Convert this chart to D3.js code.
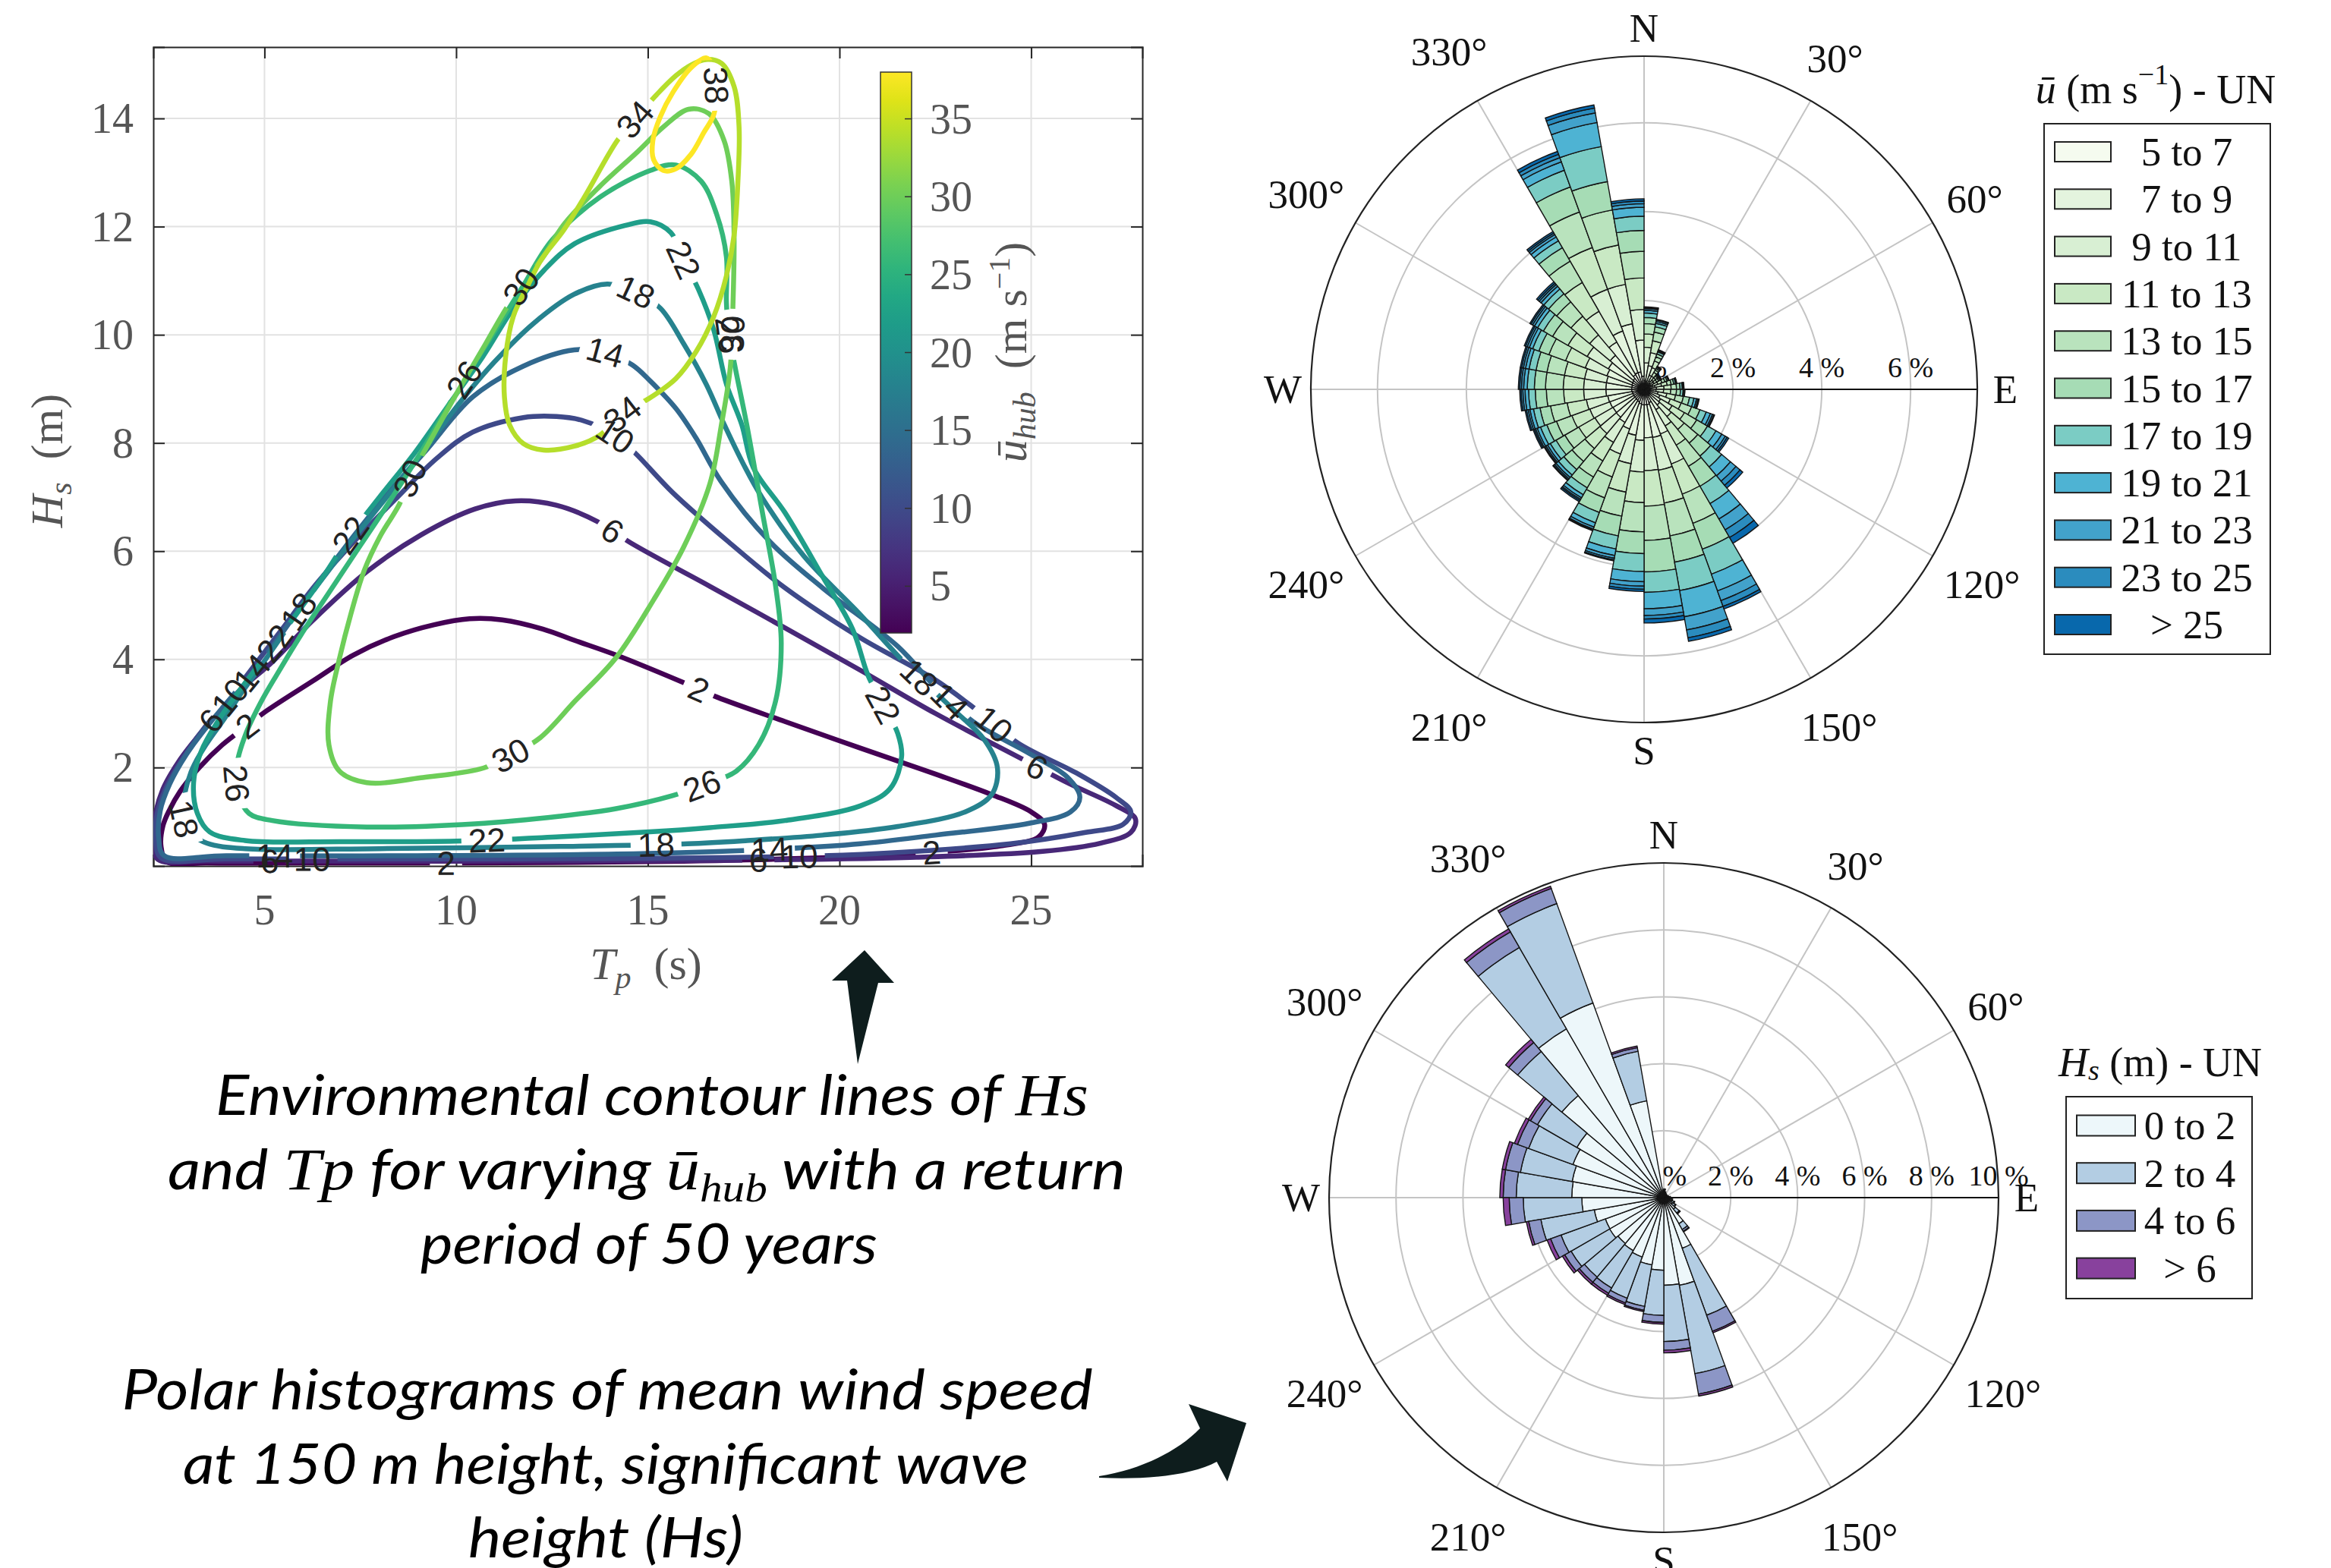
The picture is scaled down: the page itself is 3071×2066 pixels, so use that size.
<!DOCTYPE html>
<html lang="en">
<head>
<meta charset="UTF-8">
<title>Environmental contours and polar histograms</title>
<script src="https://d3js.org/d3.v7.min.js"></script>
<style>
  html, body { margin: 0; padding: 0; background: #fff; }
  svg { display: block; }
</style>
</head>
<body>
<div id="figure"></div>
<script>
// ---- contour plot: closed rings of [Tp (s), Hs (m)] for each hub wind speed ----
const contourLevels = [2, 6, 10, 14, 18, 22, 26, 30, 34, 38];

const ring2 = [[2.45,0.26],[2.3,0.55],[2.35,0.92],[2.51,1.2],[2.8,1.56],[3.3,2.0],[3.9,2.42],[4.56,2.78],[5.06,3.05],[6.26,3.6],[7.32,4.08],[8.38,4.42],[9.43,4.64],[10.35,4.75],[11.2,4.73],[12.26,4.56],[13.09,4.35],[14.17,4.08],[15.83,3.6],[16.81,3.3],[18.58,2.85],[20.54,2.36],[22.5,1.88],[23.97,1.5],[25.0,1.18],[25.35,0.95],[25.2,0.72],[24.2,0.55],[22.4,0.43],[19.0,0.32],[15.0,0.26],[10.0,0.235],[6.0,0.235],[3.5,0.235]];
const ring6 = [[2.22,0.3],[2.1,0.6],[2.13,1.05],[2.35,1.6],[2.8,2.15],[3.35,2.65],[3.9,3.1],[4.5,3.52],[5.2,3.95],[6.26,4.72],[7.67,5.62],[9.08,6.3],[10.49,6.78],[11.55,6.93],[12.61,6.85],[13.68,6.55],[14.56,6.15],[16.62,5.35],[18.58,4.58],[20.54,3.8],[22.5,3.0],[24.7,2.18],[26.0,1.7],[27.2,1.3],[27.72,1.05],[27.6,0.8],[26.8,0.6],[25.3,0.45],[22.0,0.34],[18.0,0.29],[12.0,0.27],[6.0,0.27],[3.5,0.27]];
const ring10 = [[2.3,0.33],[2.16,0.65],[2.2,1.15],[2.45,1.65],[2.9,2.2],[3.45,2.75],[4.1,3.3],[4.75,3.9],[5.45,4.55],[6.3,5.35],[7.3,6.15],[8.4,6.95],[9.5,7.72],[10.43,8.2],[11.75,8.47],[12.62,8.49],[13.28,8.42],[14.14,8.14],[14.66,7.82],[15.64,7.09],[17.11,6.17],[18.58,5.32],[20.54,4.4],[22.5,3.62],[23.6,3.05],[24.66,2.45],[26.23,1.88],[27.21,1.45],[27.6,1.18],[27.4,0.95],[26.42,0.8],[24.46,0.59],[21.52,0.43],[19.56,0.37],[15.0,0.32],[8.0,0.31],[4.0,0.31]];
const ring14 = [[2.38,0.37],[2.24,0.7],[2.28,1.2],[2.53,1.7],[2.97,2.25],[3.55,2.8],[4.17,3.33],[4.72,3.8],[5.32,4.35],[5.92,4.95],[6.6,5.6],[7.35,6.3],[8.2,7.05],[9.2,7.85],[10.43,8.85],[11.75,9.42],[13.08,9.72],[13.87,9.68],[14.6,9.44],[15.07,9.14],[15.73,8.64],[16.25,8.1],[16.9,7.3],[18.19,6.17],[19.56,5.32],[21.52,4.24],[22.5,3.49],[23.48,2.85],[24.95,2.26],[25.93,1.83],[26.27,1.45],[26.03,1.18],[24.95,0.97],[22.5,0.75],[20.54,0.59],[18.58,0.5],[15.0,0.41],[9.0,0.37],[4.0,0.37]];
const ring18 = [[3.5,0.6],[3.1,0.78],[2.9,1.05],[2.92,1.5],[3.12,1.98],[3.5,2.45],[3.95,2.9],[4.4,3.38],[4.9,3.87],[5.42,4.4],[5.98,4.98],[6.68,5.65],[7.45,6.35],[8.3,7.1],[9.2,7.9],[10.1,8.75],[11.0,9.5],[12.0,10.2],[13.08,10.75],[13.94,10.94],[14.67,10.8],[15.33,10.49],[15.93,9.84],[16.52,9.09],[17.0,8.33],[17.5,7.6],[17.99,6.98],[19.07,5.91],[20.54,4.83],[21.72,3.92],[22.99,3.06],[23.77,2.52],[24.12,1.99],[23.97,1.5],[23.28,1.18],[21.52,0.91],[19.56,0.75],[17.6,0.65],[16.03,0.59],[12.7,0.54],[8.0,0.5],[4.5,0.5]];
const ring22 = [[4.49,0.65],[3.57,0.81],[3.25,1.15],[3.15,1.72],[3.35,2.3],[3.78,2.85],[4.3,3.38],[4.85,3.9],[5.27,4.3],[5.9,4.9],[6.55,5.55],[7.24,6.3],[8.0,7.0],[8.9,7.8],[9.8,8.7],[10.7,9.6],[11.5,10.5],[12.3,11.2],[13.08,11.68],[14.4,12.02],[15.07,12.09],[15.6,11.89],[15.93,11.39],[16.32,10.84],[16.72,10.09],[17.05,9.09],[17.45,8.34],[17.75,7.55],[18.58,6.71],[19.56,5.53],[20.34,4.56],[20.74,3.71],[21.13,3.17],[21.52,2.63],[21.62,2.2],[21.32,1.61],[20.54,1.29],[18.58,1.02],[16.62,0.89],[15.05,0.81],[12.7,0.72],[10.0,0.64],[7.0,0.63]];
const ring26 = [[5.2,1.02],[4.6,1.15],[4.32,1.5],[4.28,2.05],[4.5,2.6],[4.9,3.2],[5.35,3.75],[5.95,4.45],[6.65,5.2],[7.4,6.0],[8.2,6.85],[9.1,7.85],[10.1,9.05],[10.9,9.95],[11.7,10.85],[12.5,11.75],[13.74,12.54],[15.07,13.04],[15.73,13.14],[16.39,12.84],[16.79,12.24],[17.05,11.44],[17.05,10.59],[17.12,9.99],[17.28,9.39],[17.58,8.34],[17.99,6.71],[18.33,5.37],[18.48,4.3],[18.33,3.22],[17.89,2.42],[17.3,1.93],[16.42,1.67],[15.64,1.48],[14.17,1.24],[12.7,1.1],[10.49,0.96],[7.67,0.9]];
const ring30 = [[7.67,1.72],[6.96,1.93],[6.68,2.42],[6.72,3.22],[6.96,4.03],[7.25,4.83],[7.6,5.64],[8.02,6.28],[8.52,6.87],[8.8,7.36],[9.29,8.0],[10.0,8.9],[10.7,9.75],[11.29,10.47],[11.69,10.89],[12.28,11.45],[12.81,12.04],[13.74,12.74],[14.74,13.39],[15.4,13.84],[16.06,14.17],[16.59,14.09],[16.99,13.59],[17.19,12.84],[17.25,11.84],[17.22,10.54],[17.15,9.39],[16.92,8.34],[16.62,7.25],[15.93,6.07],[15.15,5.1],[14.17,4.03],[13.09,3.22],[12.19,2.55],[11.41,2.22],[10.71,1.99],[9.08,1.81]];
const ring34 = [[12.28,7.87],[11.75,7.99],[11.39,8.34],[11.26,8.84],[11.29,9.59],[11.49,10.34],[11.89,10.94],[12.22,11.39],[12.81,11.94],[13.34,12.54],[14.2,13.59],[14.67,13.99],[15.23,14.44],[15.73,14.79],[16.13,14.99],[16.52,15.09],[16.92,15.02],[17.25,14.59],[17.38,13.84],[17.35,12.84],[17.25,11.84],[17.05,11.09],[16.72,10.34],[16.26,9.69],[15.73,9.19],[15.07,8.84],[14.34,8.54],[13.74,8.14],[13.08,7.94]];
const ring38 = [[15.13,13.59],[15.15,13.24],[15.4,13.04],[15.73,13.07],[16.13,13.34],[16.46,13.74],[16.72,14.07],[16.79,14.59],[16.69,14.99],[16.52,15.12],[16.13,14.94],[15.66,14.49],[15.33,14.04]];

// in-line label anchors [Tp, Hs] (snapped onto their own contour)
const labels2 = [[4.56,2.78],[16.32,3.46],[22.4,0.43],[9.72,0.235]];
const labels6 = [[3.62,2.88],[14.07,6.36],[25.15,1.99],[17.9,0.28],[5.13,0.27]];
const labels10 = [[4.14,3.28],[14.14,8.14],[23.97,2.75],[18.97,0.36],[6.26,0.31]];
const labels14 = [[4.67,3.75],[13.87,9.68],[22.79,3.17],[18.19,0.5],[5.27,0.37]];
const labels18 = [[5.8,4.92],[14.67,10.8],[22.0,3.6],[15.2,0.58],[2.9,1.05]];
const labels22 = [[5.27,4.3],[7.24,6.3],[15.93,11.39],[21.13,3.17],[10.78,0.64]];
const labels26 = [[10.15,9.2],[4.28,1.7],[16.42,1.67],[17.12,9.99]];
const labels30 = [[8.8,7.36],[11.69,10.89],[11.41,2.22],[17.19,10.0]];
const labels34 = [[14.67,13.99],[14.34,8.54]];
const labels38 = [[16.77,14.6]];

const tpTicks = [5, 10, 15, 20, 25];
const hsTicks = [2, 4, 6, 8, 10, 12, 14];
const colorbarTicks = [5, 10, 15, 20, 25, 30, 35];

// ---- polar histograms: 10 degree direction bins, percentage of records ----
const dirBins = [0,10,20,30,40,50,60,70,80,90,100,110,120,130,140,150,160,170,180,190,200,210,220,230,240,250,260,270,280,290,300,310,320,330,340,350];
const compassAngles = [0, 30, 60, 90, 120, 150, 180, 210, 240, 270, 300, 330];
const compassLabels = ['N', '30°', '60°', 'E', '120°', '150°', 'S', '210°', '240°', 'W', '300°', '330°'];

const windClasses = ['5 to 7', '7 to 9', '9 to 11', '11 to 13', '13 to 15', '15 to 17', '17 to 19', '19 to 21', '21 to 23', '23 to 25', '> 25'];
const wind5to7   = [.2,.18,.12,.08,.07,.07,.08,.09,.1,.1,.12,.13,.15,.16,.18,.32,.35,.35,.35,.33,.3,.28,.27,.27,.27,.27,.28,.28,.28,.29,.3,.32,.38,.4,.4,.3];
const wind7to9   = [.4,.36,.22,.14,.11,.1,.13,.16,.18,.17,.2,.25,.28,.3,.35,.75,.75,.74,.8,.72,.65,.58,.55,.54,.55,.56,.58,.58,.58,.6,.63,.68,.85,1.0,1.1,.81];
const wind9to11  = [.35,.3,.18,.12,.09,.09,.12,.15,.17,.17,.2,.25,.3,.34,.42,.72,.75,.74,.71,.65,.6,.52,.48,.47,.48,.49,.5,.5,.5,.52,.55,.6,.8,1.0,.9,.69];
const wind11to13 = [.3,.27,.16,.1,.07,.07,.1,.13,.16,.16,.2,.26,.32,.38,.5,.72,.75,.8,.69,.65,.55,.48,.44,.42,.43,.44,.45,.46,.46,.47,.5,.55,.75,1.0,.9,.71];
const wind13to15 = [.23,.2,.1,.06,.05,.05,.07,.09,.12,.13,.18,.25,.32,.4,.55,.7,.75,.77,.66,.55,.5,.42,.38,.36,.37,.38,.39,.4,.4,.4,.4,.42,.55,.85,.8,.6];
const wind15to17 = [.14,.12,.07,.04,.03,.03,.05,.06,.08,.09,.14,.2,.28,.38,.52,.62,.6,.71,.49,.45,.35,.28,.24,.23,.23,.24,.25,.25,.25,.24,.24,.24,.35,.6,.65,.47];
const wind17to19 = [.1,.08,.05,.03,.02,.02,.03,.04,.05,.06,.1,.15,.22,.32,.45,.6,.65,.46,.4,.3,.25,.18,.16,.15,.15,.15,.15,.16,.16,.15,.15,.14,.18,.4,.8,.32];
const wind19to21 = [.06,.04,.02,.01,.005,.01,.01,.015,.02,.02,.06,.1,.15,.26,.4,.4,.6,.37,.23,.15,.1,.08,.07,.07,.08,.08,.08,.08,.08,.08,.08,.08,.1,.2,.55,.2];
const wind21to23 = [.04,.03,.01,.01,.003,.005,.005,.007,.01,.01,.03,.05,.09,.16,.28,.23,.3,.15,.1,.06,.05,.04,.04,.04,.04,.04,.05,.05,.05,.05,.05,.05,.06,.1,.22,.08];
const wind23to25 = [.02,.01,.01,.005,.001,.003,.003,.005,.006,.006,.02,.03,.05,.12,.2,.14,.18,.08,.07,.04,.02,.03,.03,.03,.03,.04,.04,.04,.04,.04,.04,.04,.04,.08,.11,.06];
const windAbove25 = [.02,.01,.01,.005,.001,.002,.002,.003,.004,.004,.01,.02,.04,.08,.15,.06,.08,.09,.05,.02,.02,.03,.02,.02,.03,.03,.03,.03,.03,.03,.03,.04,.04,.07,.07,.05];
const windTicks = [0, 2, 4, 6];

const waveClasses = ['0 to 2', '2 to 4', '4 to 6', '> 6'];
const hs0to2   = [.2,.15,.12,.1,.1,.1,.1,.12,.15,.18,.2,.25,.3,.45,.9,1.61,2.66,2.62,2.17,2.04,1.89,1.83,1.79,1.87,1.86,2.11,2.45,2.75,2.78,2.89,3.0,3.98,5.82,6.19,2.94,.2];
const hs2to4   = [.05,.03,.02,.02,.02,.02,.02,.03,.04,.05,.06,.08,.1,.15,.2,2.13,2.68,1.68,1.35,1.26,1.31,1.29,1.31,1.33,1.41,1.62,1.75,1.66,1.57,1.41,1.36,1.72,2.81,3.16,1.5,.03];
const hs4to6   = [.01,0,0,0,0,0,0,0,.01,.01,.01,.02,.02,.03,.06,.51,.62,.26,.21,.12,.15,.18,.2,.22,.33,.37,.42,.39,.45,.35,.24,.35,.54,.48,.11,0];
const hsAbove6 = [0,0,0,0,0,0,0,0,0,0,0,0,0,.01,.02,.05,.06,.08,.05,.04,.05,.07,.07,.08,.11,.07,.18,.1,.1,.1,.08,.12,.1,.07,.05,0];
const waveTicks = [0, 2, 4, 6, 8, 10];

// ---------------------------------------------------------------------------
const W = 3071, H = 2066;
const SERIF = "'Liberation Serif', 'DejaVu Serif', serif";
const SANS = "'Liberation Sans', Arial, sans-serif";
const NOTE = "Lato, 'Open Sans', sans-serif";
const AXIS_GREY = '#555';

const svg = d3.select('#figure').append('svg')
  .attr('width', W).attr('height', H).attr('viewBox', `0 0 ${W} ${H}`);
svg.append('rect').attr('width', W).attr('height', H).attr('fill', '#fff');
const defs = svg.append('defs');

// ================= contour plot =================
const box = { left: 202, right: 1505, top: 62, bottom: 1141 };
const x = d3.scaleLinear().domain([2.1, 27.9]).range([box.left, box.right]);
const y = d3.scaleLinear().domain([0.18, 15.32]).range([box.bottom, box.top]);
const colour = d3.scaleSequential(d3.interpolateViridis).domain([2, 38]);

// grid
svg.append('g').selectAll('line').data(tpTicks).join('line')
  .attr('x1', d => x(d)).attr('x2', d => x(d)).attr('y1', box.top).attr('y2', box.bottom)
  .attr('stroke', '#e2e2e2').attr('stroke-width', 2);
svg.append('g').selectAll('line').data(hsTicks).join('line')
  .attr('y1', d => y(d)).attr('y2', d => y(d)).attr('x1', box.left).attr('x2', box.right)
  .attr('stroke', '#e2e2e2').attr('stroke-width', 2);

// axes with inward ticks on all four sides
svg.append('g').attr('transform', `translate(0,${box.bottom})`)
  .call(d3.axisBottom(x).tickValues(tpTicks).tickSize(-15).tickFormat(''));
svg.append('g').attr('transform', `translate(0,${box.top})`)
  .call(d3.axisTop(x).tickValues(tpTicks).tickSize(-15).tickFormat(''));
svg.append('g').attr('transform', `translate(${box.left},0)`)
  .call(d3.axisLeft(y).tickValues(hsTicks).tickSize(-15).tickFormat(''));
svg.append('g').attr('transform', `translate(${box.right},0)`)
  .call(d3.axisRight(y).tickValues(hsTicks).tickSize(-15).tickFormat(''));
svg.selectAll('.domain').attr('stroke', '#262626').attr('stroke-width', 2);
svg.selectAll('.tick line').attr('stroke', '#262626').attr('stroke-width', 2);

svg.append('g').selectAll('text').data(tpTicks).join('text')
  .attr('x', d => x(d)).attr('y', 1218).attr('text-anchor', 'middle')
  .attr('font-family', SERIF).attr('font-size', 56).attr('fill', AXIS_GREY).text(d => d);
svg.append('g').selectAll('text').data(hsTicks).join('text')
  .attr('x', 176).attr('y', d => y(d)).attr('text-anchor', 'end').attr('dominant-baseline', 'central')
  .attr('font-family', SERIF).attr('font-size', 56).attr('fill', AXIS_GREY).text(d => d);

const xl = svg.append('text').attr('x', 851).attr('y', 1290).attr('text-anchor', 'middle')
  .attr('font-family', SERIF).attr('font-size', 60).attr('fill', AXIS_GREY);
xl.append('tspan').attr('font-style', 'italic').text('T');
xl.append('tspan').attr('font-style', 'italic').attr('font-size', 42).attr('dy', 12).text('p');
xl.append('tspan').attr('dy', -12).text('\u2002(s)');

const yl = svg.append('text').attr('transform', 'translate(82,607) rotate(-90)').attr('text-anchor', 'middle')
  .attr('font-family', SERIF).attr('font-size', 60).attr('fill', AXIS_GREY);
yl.append('tspan').attr('font-style', 'italic').text('H');
yl.append('tspan').attr('font-style', 'italic').attr('font-size', 42).attr('dy', 12).text('s');
yl.append('tspan').attr('dy', -12).text('\u2002(m)');

// contour lines with label gaps
defs.append('clipPath').attr('id', 'plotClip').append('rect')
  .attr('x', box.left).attr('y', box.top).attr('width', box.right - box.left).attr('height', box.bottom - box.top);

const rings = [ring2, ring6, ring10, ring14, ring18, ring22, ring26, ring30, ring34, ring38];
const labelSets = [labels2, labels6, labels10, labels14, labels18, labels22, labels26, labels30, labels34, labels38];
const levels = contourLevels.map((v, i) => ({ value: v, ring: rings[i], labels: labelSets[i] }));

const contourLine = d3.line().x(d => x(d[0])).y(d => y(d[1])).curve(d3.curveCatmullRomClosed.alpha(0.5));
const lineLayer = svg.append('g').attr('clip-path', 'url(#plotClip)');
const labelLayer = svg.append('g');

levels.forEach(lv => {
  const mask = defs.append('mask').attr('id', `gap${lv.value}`)
    .attr('maskUnits', 'userSpaceOnUse').attr('x', 0).attr('y', 0).attr('width', W).attr('height', H);
  mask.append('rect').attr('width', W).attr('height', H).attr('fill', '#fff');

  const path = lineLayer.append('path')
    .attr('d', contourLine(lv.ring))
    .attr('fill', 'none').attr('stroke', colour(lv.value)).attr('stroke-width', 6.5)
    .attr('stroke-linejoin', 'round').attr('mask', `url(#gap${lv.value})`);
  const node = path.node();
  const len = node.getTotalLength();

  lv.labels.forEach(([tp, hs]) => {
    const px = x(tp), py = y(hs);
    let best = 0, bestD = Infinity;
    for (let s = 0; s < len; s += 2) {
      const p = node.getPointAtLength(s);
      const d = (p.x - px) ** 2 + (p.y - py) ** 2;
      if (d < bestD) { bestD = d; best = s; }
    }
    const p = node.getPointAtLength(best);
    const a = node.getPointAtLength((best - 10 + len) % len);
    const b = node.getPointAtLength((best + 10) % len);
    let ang = Math.atan2(b.y - a.y, b.x - a.x) * 180 / Math.PI;
    if (ang > 90) ang -= 180;
    if (ang <= -90) ang += 180;
    const tf = `translate(${p.x},${p.y}) rotate(${ang})`;
    const t = labelLayer.append('text').attr('transform', tf)
      .attr('text-anchor', 'middle').attr('dominant-baseline', 'central')
      .attr('font-family', SANS).attr('font-size', 44).attr('fill', '#222').text(lv.value);
    const w = t.node().getComputedTextLength();
    mask.append('rect').attr('transform', tf)
      .attr('x', -w / 2 - 9).attr('y', -18).attr('width', w + 18).attr('height', 36).attr('fill', '#000');
  });
});

// colorbar
const cb = { x: 1160, w: 41, top: 95, bottom: 834 };
const cbY = d3.scaleLinear().domain([2, 38]).range([cb.bottom, cb.top]);
const grad = defs.append('linearGradient').attr('id', 'viridisBar')
  .attr('x1', 0).attr('y1', 1).attr('x2', 0).attr('y2', 0);
d3.range(0, 1.0001, 0.05).forEach(t => grad.append('stop').attr('offset', t).attr('stop-color', d3.interpolateViridis(t)));
svg.append('rect').attr('x', cb.x).attr('y', cb.top).attr('width', cb.w).attr('height', cb.bottom - cb.top)
  .attr('fill', 'url(#viridisBar)').attr('stroke', '#333').attr('stroke-width', 1.5);
svg.append('g').selectAll('line').data(colorbarTicks).join('line')
  .attr('x1', cb.x + cb.w - 9).attr('x2', cb.x + cb.w).attr('y1', d => cbY(d)).attr('y2', d => cbY(d))
  .attr('stroke', '#333').attr('stroke-width', 1.5);
svg.append('g').selectAll('text').data(colorbarTicks).join('text')
  .attr('x', cb.x + cb.w + 24).attr('y', d => cbY(d)).attr('dominant-baseline', 'central')
  .attr('font-family', SERIF).attr('font-size', 56).attr('fill', AXIS_GREY).text(d => d);
const cbl = svg.append('text').attr('transform', 'translate(1352,464) rotate(-90)').attr('text-anchor', 'middle')
  .attr('font-family', SERIF).attr('font-size', 60).attr('fill', AXIS_GREY);
cbl.append('tspan').attr('font-style', 'italic').text('ū');
cbl.append('tspan').attr('font-style', 'italic').attr('font-size', 42).attr('dy', 12).text('hub');
cbl.append('tspan').attr('dy', -12).text('\u2002(m s');
cbl.append('tspan').attr('font-size', 40).attr('dy', -22).text('−1');
cbl.append('tspan').attr('dy', 22).text(')');

// ================= polar histograms =================
function drawPolar(o) {
  const g = svg.append('g').attr('transform', `translate(${o.cx},${o.cy})`);
  const r = d3.scaleLinear().domain([0, o.rMax]).range([0, o.R]);
  const rad = a => a * Math.PI / 180;

  g.append('g').selectAll('circle').data(o.ticks.filter(v => v > 0 && v < o.rMax)).join('circle')
    .attr('r', d => r(d)).attr('fill', 'none').attr('stroke', '#c4c4c4').attr('stroke-width', 2);
  g.append('g').selectAll('line').data(compassAngles).join('line')
    .attr('x1', 0).attr('y1', 0)
    .attr('x2', d => o.R * Math.sin(rad(d))).attr('y2', d => -o.R * Math.cos(rad(d)))
    .attr('stroke', d => d === 90 ? '#111' : '#c4c4c4').attr('stroke-width', 2);
  g.append('circle').attr('r', o.R).attr('fill', 'none').attr('stroke', '#222').attr('stroke-width', 2.2);

  g.append('g').selectAll('text').data(o.ticks).join('text')
    .attr('x', d => r(d)).attr('y', -16).attr('text-anchor', 'middle')
    .attr('font-family', SERIF).attr('font-size', 38).attr('fill', '#111').text(d => `${d} %`);

  const keys = o.classes;
  const table = dirBins.map((bin, i) => {
    const row = { bin };
    keys.forEach((k, j) => { row[k] = o.series[j][i]; });
    return row;
  });
  const layers = d3.stack().keys(keys)(table);
  const arc = d3.arc();
  layers.forEach((layer, j) => {
    g.append('g').selectAll('path').data(layer.filter(d => d[1] - d[0] > 0)).join('path')
      .attr('d', d => arc({ innerRadius: r(d[0]), outerRadius: r(d[1]),
        startAngle: rad(d.data.bin), endAngle: rad(d.data.bin + 10) }))
      .attr('fill', o.colors[j]).attr('stroke', '#141414').attr('stroke-width', 1.4);
  });

  g.append('g').selectAll('text').data(compassAngles).join('text')
    .attr('x', (d, i) => (o.R + labelGap(compassLabels[i])) * Math.sin(rad(d)))
    .attr('y', (d, i) => -(o.R + labelGap(compassLabels[i])) * Math.cos(rad(d)))
    .attr('text-anchor', 'middle').attr('dominant-baseline', 'central')
    .attr('font-family', SERIF).attr('font-size', 53).attr('fill', '#111')
    .text((d, i) => compassLabels[i]);
}
function labelGap(s) { return s.length === 1 ? 37 : (s.length === 3 ? 64 : 75); }

function drawLegend(o) {
  const g = svg.append('g');
  g.append('rect').attr('x', o.x).attr('y', o.y).attr('width', o.w).attr('height', o.h)
    .attr('fill', '#fff').attr('stroke', '#222').attr('stroke-width', 2);
  o.classes.forEach((lab, i) => {
    const cy = o.firstY + i * o.step;
    g.append('rect').attr('x', o.swX).attr('y', cy - o.swH / 2).attr('width', o.swW).attr('height', o.swH)
      .attr('fill', o.colors[i]).attr('stroke', '#222').attr('stroke-width', 2);
    g.append('text').attr('x', o.textX).attr('y', cy).attr('text-anchor', 'middle').attr('dominant-baseline', 'central')
      .attr('font-family', SERIF).attr('font-size', o.fs).attr('fill', '#111').text(lab);
  });
}

const windColors = ['#f5fbef', '#e4f4de', '#d8efd3', '#c9e9c4', '#b9e3bd', '#a6dcb5', '#7bccc4', '#4eb3d3', '#42a2cb', '#2b8cbe', '#0868ac'];
const waveColors = ['#edf7fa', '#b3cde3', '#8c96c6', '#88419d'];

drawPolar({ cx: 2166, cy: 513, R: 439, rMax: 7.5, ticks: windTicks, classes: windClasses, colors: windColors,
  series: [wind5to7, wind7to9, wind9to11, wind11to13, wind13to15, wind15to17, wind17to19, wind19to21, wind21to23, wind23to25, windAbove25] });
drawPolar({ cx: 2192, cy: 1578, R: 441, rMax: 10, ticks: waveTicks, classes: waveClasses, colors: waveColors,
  series: [hs0to2, hs2to4, hs4to6, hsAbove6] });

drawLegend({ x: 2693, y: 163, w: 298, h: 699, swX: 2707, swW: 74, swH: 26, firstY: 200, step: 62.3,
  textX: 2881, fs: 53, classes: windClasses, colors: windColors });
drawLegend({ x: 2722, y: 1445, w: 245, h: 266, swX: 2736, swW: 77, swH: 27, firstY: 1483, step: 62.7,
  textX: 2885, fs: 53, classes: waveClasses, colors: waveColors });

const t1 = svg.append('text').attr('x', 2840).attr('y', 118).attr('text-anchor', 'middle').attr('dominant-baseline', 'central')
  .attr('font-family', SERIF).attr('font-size', 54).attr('fill', '#111');
t1.append('tspan').attr('font-style', 'italic').text('ū');
t1.append('tspan').text(' (m s');
t1.append('tspan').attr('font-size', 38).attr('dy', -20).text('−1');
t1.append('tspan').attr('dy', 20).text(') - UN');

const t2 = svg.append('text').attr('x', 2846).attr('y', 1400).attr('text-anchor', 'middle').attr('dominant-baseline', 'central')
  .attr('font-family', SERIF).attr('font-size', 54).attr('fill', '#111');
t2.append('tspan').attr('font-style', 'italic').text('H');
t2.append('tspan').attr('font-style', 'italic').attr('font-size', 38).attr('dy', 10).text('s');
t2.append('tspan').attr('dy', -10).text(' (m) - UN');

// ================= notes and arrows =================
function noteLine(parts, cx, baseline, width) {
  const t = svg.append('text').attr('x', cx).attr('y', baseline).attr('text-anchor', 'middle')
    .attr('font-family', NOTE).attr('font-style', 'italic').attr('font-size', 74).attr('fill', '#000');
  parts.forEach(p => {
    const s = t.append('tspan').text(p.text);
    if (p.math) s.attr('font-family', SERIF).attr('font-size', 78);
    if (p.sub) s.attr('font-size', 52).attr('dy', 16);
    if (p.after) s.attr('dy', -16);
  });
  t.attr('textLength', width).attr('lengthAdjust', 'spacingAndGlyphs');
}
noteLine([{ text: 'Environmental contour lines of ' }, { text: 'Hs', math: true }], 859, 1469, 1150);
noteLine([{ text: 'and ' }, { text: 'Tp', math: true }, { text: ' for varying ' }, { text: 'ū', math: true },
  { text: 'hub', math: true, sub: true }, { text: ' with a return', after: true }], 852, 1567, 1262);
noteLine([{ text: 'period of 50 years' }], 855, 1665, 602);
noteLine([{ text: 'Polar histograms of  mean wind speed' }], 800, 1857, 1279);
noteLine([{ text: 'at 150 m height, significant wave' }], 798, 1955, 1114);
noteLine([{ text: 'height (Hs)' }], 798, 2052, 362);

const ARROW = '#0e1d1d';
svg.append('path')
  .attr('d', 'M1139,1252 L1178,1295 L1157,1295 L1130,1402 L1116,1292 L1096,1292 Z')
  .attr('fill', ARROW);
svg.append('path')
  .attr('d', 'M1448,1945 C1500,1937 1550,1914 1581,1882 L1566,1850 L1642,1875 L1617,1952 L1603,1926 C1570,1944 1510,1950 1448,1947 Z')
  .attr('fill', ARROW);
</script>
</body>
</html>
